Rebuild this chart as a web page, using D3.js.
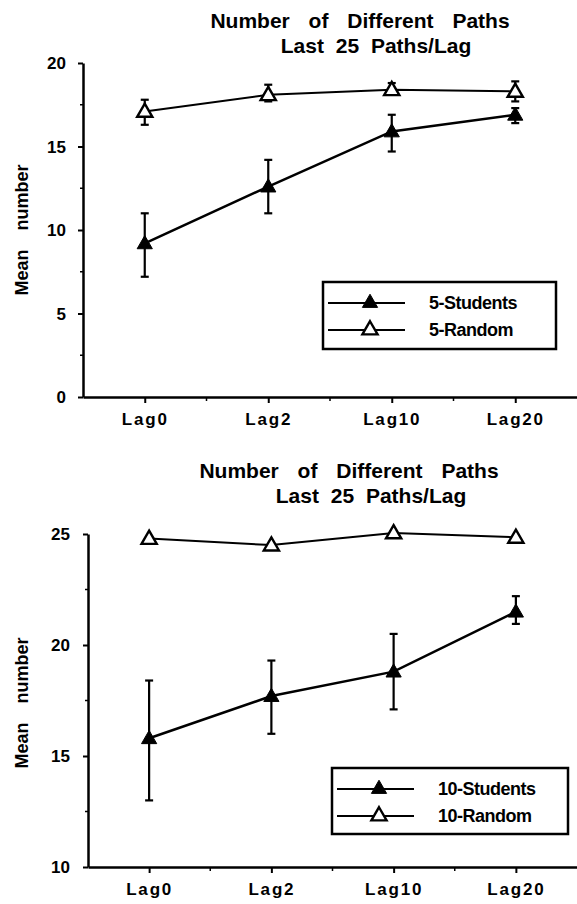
<!DOCTYPE html>
<html lang="en">
<head>
<meta charset="UTF-8">
<script src="https://d3js.org/d3.v7.min.js"></script>
<style>
    body { margin: 0; background: #fff; }
    svg text { font-family: "Liberation Sans", Arial, sans-serif; font-weight: bold; fill: #000; }
    .title { font-size: 21px; word-spacing: 13px; }
    .ytick { font-size: 17px; }
    .xtick { font-size: 17px; letter-spacing: 1.8px; }
    .ylab { font-size: 18px; word-spacing: 14px; }
    .legend text { font-size: 18px; letter-spacing: -0.5px; }
</style>
</head>
<body>
<svg width="577" height="904"></svg>
<script>
// categories
const lags = ["Lag0", "Lag2", "Lag10", "Lag20"];

// panel 1: 5 paths
const students5   = [9.2, 12.6, 15.9, 16.9];
const students5Lo = [7.2, 11.0, 14.7, 16.4];
const students5Hi = [11.0, 14.2, 16.9, 17.3];
const random5     = [17.1, 18.1, 18.4, 18.3];
const random5Lo   = [16.3, 17.7, 18.2, 17.7];
const random5Hi   = [17.8, 18.7, 18.8, 18.9];

// panel 2: 10 paths
const students10   = [15.8, 17.7, 18.8, 21.5];
const students10Lo = [13.0, 16.0, 17.1, 20.95];
const students10Hi = [18.4, 19.3, 20.5, 22.2];
const random10     = [24.8, 24.5, 25.05, 24.85];

const yTicks5  = [0, 5, 10, 15, 20];
const yTicks10 = [10, 15, 20, 25];

const svg = d3.select("svg");

// 패널 하나 그리기
function drawPanel(p) {
    const g = svg.append("g");
    const x = d3.scalePoint().domain(lags).range([p.left, 577]).padding(0.5);
    const y = d3.scaleLinear().domain(p.domain).range([p.bottom, p.top]);

    // titles
    g.append("text").attr("class", "title").attr("x", p.t1x).attr("y", p.t1y)
        .attr("text-anchor", "middle").text("Number of Different Paths");
    g.append("text").attr("class", "title").attr("x", p.t2x).attr("y", p.t2y)
        .attr("text-anchor", "middle").style("word-spacing", "6px").text("Last 25 Paths/Lag");

    // y axis
    const yAxis = g.append("g").attr("transform", `translate(${p.left},0)`)
        .call(d3.axisLeft(y).tickValues(p.yTicks).tickSize(5).tickPadding(p.tickPad).tickSizeOuter(0));
    yAxis.select(".domain").attr("stroke-width", 2.5);
    yAxis.selectAll(".tick line").attr("stroke-width", 2);
    yAxis.selectAll("text").attr("class", "ytick").attr("dy", "0.35em");
    // minor y ticks
    const minorY = d3.range(p.domain[0] + 2.5, p.domain[1], 5);
    g.selectAll(".minor-y").data(minorY).join("line")
        .attr("x1", p.left - 3).attr("x2", p.left)
        .attr("y1", d => y(d)).attr("y2", d => y(d))
        .attr("stroke", "#000").attr("stroke-width", 1.5);

    // x axis
    const xAxis = g.append("g").attr("transform", `translate(0,${p.bottom})`)
        .call(d3.axisBottom(x).tickSize(6).tickPadding(10).tickSizeOuter(0));
    xAxis.select(".domain").attr("stroke-width", 2.5);
    xAxis.selectAll(".tick line").attr("stroke-width", 2);
    xAxis.selectAll("text").attr("class", "xtick");
    // minor x ticks between lags
    const step = x.step();
    g.selectAll(".minor-x").data(lags.slice(1)).join("line")
        .attr("x1", d => x(d) - step / 2).attr("x2", d => x(d) - step / 2)
        .attr("y1", p.bottom).attr("y2", p.bottom + 4)
        .attr("stroke", "#000").attr("stroke-width", 1.5);

    // y label
    g.append("text").attr("class", "ylab")
        .attr("transform", `translate(${p.ylabX},${p.ylabY}) rotate(-90)`)
        .attr("text-anchor", "middle").text("Mean number");

    const line = d3.line().x((d, i) => x(lags[i])).y(d => y(d));
    const tri = d3.symbol(d3.symbolTriangle, 100);

    p.series.forEach(s => {
        // error bars
        if (s.lo) {
            lags.forEach((l, i) => {
                const eb = g.append("g").attr("stroke", "#000").attr("stroke-width", 2.2);
                eb.append("line").attr("x1", x(l)).attr("x2", x(l))
                    .attr("y1", y(s.lo[i])).attr("y2", y(s.hi[i]));
                [s.lo[i], s.hi[i]].forEach(v => eb.append("line")
                    .attr("x1", x(l) - 4).attr("x2", x(l) + 4)
                    .attr("y1", y(v)).attr("y2", y(v)));
            });
        }
        g.append("path").datum(s.values).attr("d", line)
            .attr("fill", "none").attr("stroke", "#000").attr("stroke-width", s.filled ? 2.5 : 2);
        g.selectAll(null).data(s.values).join("path")
            .attr("transform", (d, i) => `translate(${x(lags[i])},${y(d) + 1})`)
            .attr("d", tri)
            .attr("fill", s.filled ? "#000" : "#fff")
            .attr("stroke", "#000").attr("stroke-width", s.filled ? 1 : 2.4);
    });

    // legend
    const lg = g.append("g").attr("class", "legend");
    lg.append("rect").attr("x", p.lg.x).attr("y", p.lg.y).attr("width", p.lg.w).attr("height", p.lg.h)
        .attr("fill", "#fff").attr("stroke", "#000").attr("stroke-width", 2.5);
    p.series.forEach((s, i) => {
        const ry = p.lg.y + 21 + i * 27;
        lg.append("line").attr("x1", p.lg.x + 5).attr("x2", p.lg.x + 82)
            .attr("y1", ry).attr("y2", ry).attr("stroke", "#000").attr("stroke-width", 2);
        lg.append("path").attr("d", tri).attr("transform", `translate(${p.lg.x + 47},${ry})`)
            .attr("fill", s.filled ? "#000" : "#fff")
            .attr("stroke", "#000").attr("stroke-width", s.filled ? 1 : 2.4);
        lg.append("text").attr("x", p.lg.x + 106).attr("y", ry + 6).text(s.name);
    });
}

drawPanel({
    left: 83, top: 63, bottom: 397, domain: [0, 20], yTicks: yTicks5, tickPad: 12,
    t1x: 360, t1y: 28, t2x: 376, t2y: 53, ylabX: 28, ylabY: 230,
    lg: { x: 323, y: 282, w: 233, h: 67 },
    series: [
        { name: "5-Students", values: students5, lo: students5Lo, hi: students5Hi, filled: true },
        { name: "5-Random", values: random5, lo: random5Lo, hi: random5Hi, filled: false }
    ]
});

drawPanel({
    left: 88, top: 534, bottom: 867, domain: [10, 25], yTicks: yTicks10, tickPad: 13,
    t1x: 349, t1y: 478, t2x: 371, t2y: 503, ylabX: 28, ylabY: 703,
    lg: { x: 332, y: 768, w: 236, h: 66 },
    series: [
        { name: "10-Students", values: students10, lo: students10Lo, hi: students10Hi, filled: true },
        { name: "10-Random", values: random10, filled: false }
    ]
});
</script>
</body>
</html>
